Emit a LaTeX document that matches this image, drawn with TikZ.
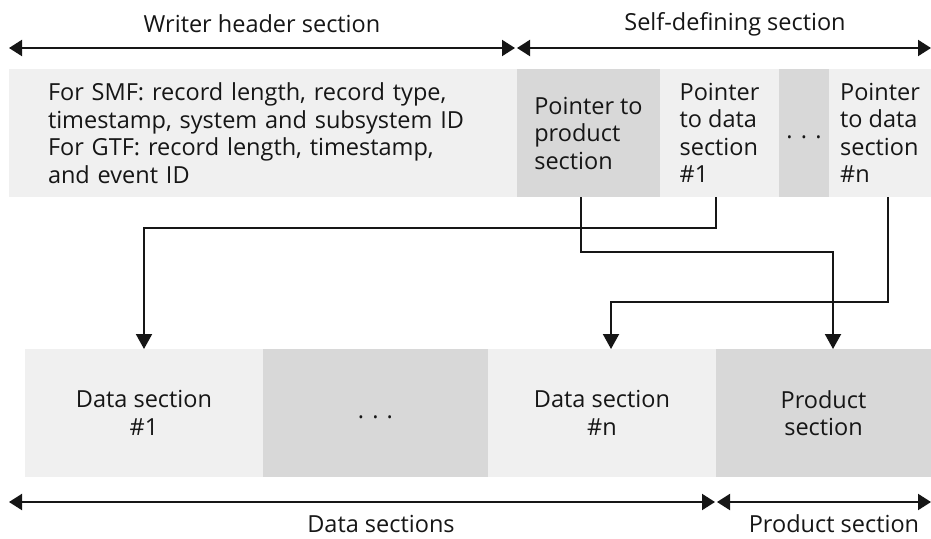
\documentclass[tikz,border=0pt]{standalone}
\usepackage{fontspec}
\setmainfont{Open Sans}
\usetikzlibrary{arrows.meta,positioning,calc}
\definecolor{ink}{HTML}{161616}
\definecolor{lightsec}{HTML}{F0F0F0}
\definecolor{darksec}{HTML}{D8D8D8}

\begin{document}
\begin{tikzpicture}[
    x=1pt, y=-1pt,
    font=\fontsize{23.5}{27.5}\selectfont, text=ink,
    sec/.style={fill=lightsec, minimum height=128pt, inner sep=0pt, outer sep=0pt, align=center},
    secd/.style={sec, fill=darksec},
    arr/.style={-{Triangle[length=15pt, width=16pt]}, line width=2pt, draw=ink},
    dim/.style={{Triangle[length=13pt, width=16pt]}-{Triangle[length=13pt, width=16pt]}, line width=2pt, draw=ink}
]
\useasboundingbox (0,0) rectangle (931,538);

% record header row
\node[sec, inner xsep=39pt, text width=430pt, align=left] (whdr) at (263,133) {For SMF: record length, record type,\\timestamp, system and subsystem ID\\For GTF: record length, timestamp,\\and event ID};
\node[secd, minimum width=143pt, align=left] (pprod) at (588.5,133) {Pointer to\\product\\section};
\node[sec, minimum width=119pt, align=left] (pdat1) at (719.5,133) {Pointer\\to data\\section\\\#1};
\node[secd, minimum width=50pt] (pdots) at (804,133) {\strut. . .};
\node[sec, minimum width=102pt, align=left] (pdatn) at (880,133) {Pointer\\to data\\section\\\#n};

% sections row
\node[sec, minimum width=238pt] (dsec1) at (144,413) {Data section\\\#1};
\node[secd, minimum width=225pt] (dsdots) at (375.5,413) {\strut. . .};
\node[sec, minimum width=228pt] (dsecn) at (602,413) {Data section\\\#n};
\node[secd, minimum width=215pt] (prod) at (823.5,413) {Product\\section};

% extents
\coordinate (t0) at (9,48);
\coordinate (t1) at (516,48);
\coordinate (t2) at (931,48);
\coordinate (b0) at (9,502);
\coordinate (b1) at (716,502);
\coordinate (b2) at (931,502);
\draw[dim] (t0) -- ([xshift=-1pt]t1);
\draw[dim] ([xshift=1pt]t1) -- (t2);
\draw[dim] (b0) -- ([xshift=-1pt]b1);
\draw[dim] ([xshift=1pt]b1) -- (b2);
\node (lwh) at (262,24) {Writer header section};
\node (lsd) at (735,24) {Self-defining section};
\node (lds) at (381,524) {Data sections};
\node (lps) at (834,524) {Product section};

% pointers
\draw[arr] ([xshift=-8pt]pprod.south) -- ++(0,55) -| ([xshift=9.5pt]prod.north);
\draw[arr] ([xshift=-3.5pt]pdat1.south) -- ++(0,31) -| (dsec1.north);
\draw[arr] ([xshift=8pt]pdatn.south) -- ++(0,105) -| ([xshift=9pt]dsecn.north);
\end{tikzpicture}
\end{document}
